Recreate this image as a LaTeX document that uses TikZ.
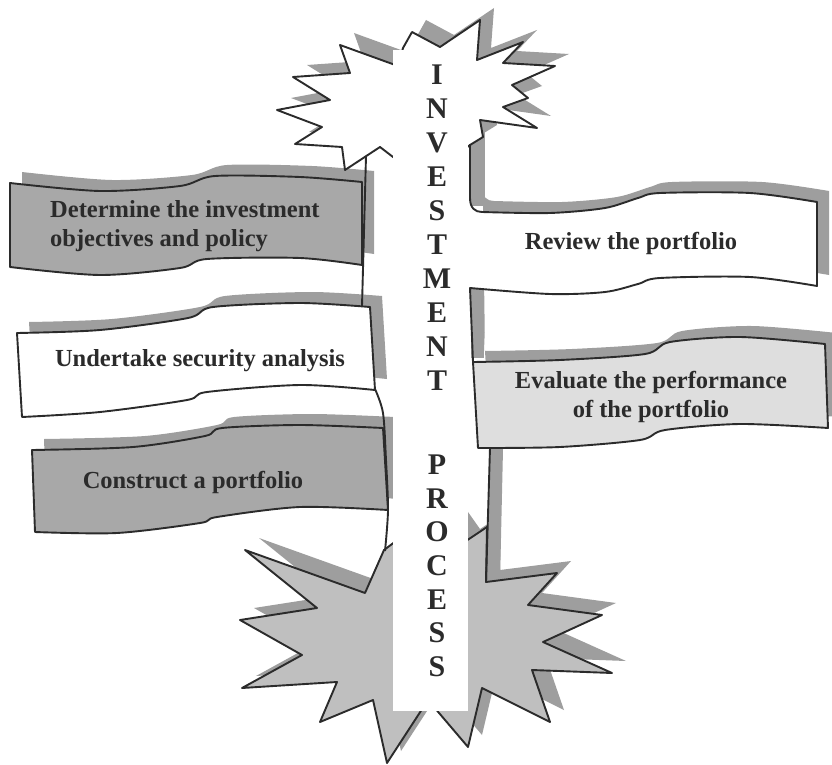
\documentclass[tikz,border=0pt]{standalone}
\usepackage{fontspec}
\setmainfont{Liberation Serif}
\definecolor{bandgray}{gray}{0.66}
\definecolor{lightband}{gray}{0.87}
\definecolor{stargray}{gray}{0.75}
\definecolor{shadowgray}{gray}{0.62}
\definecolor{inkgray}{gray}{0.17}
\tikzset{
	outline/.style={draw=inkgray, line width=1.9pt, line join=round},
	ribshadow/.style={fill=shadowgray, draw=none, shift={(12,-11)}},
	starshadow/.style={fill=shadowgray, draw=none, shift={(14,-12)}},
	bantext/.style={
		font={\fontsize{24.5}{29.5}\selectfont\bfseries},
		text=inkgray,
		inner sep=0pt
	},
	colletter/.style={
		font={\fontsize{30}{30}\selectfont\bfseries},
		text=inkgray,
		inner sep=0pt
	}
}
% ribbon and burst outlines, in pixels, y pointing down
\newcommand{\ribDetermine}{plot[smooth] coordinates {(10,183) (100,191) (180,186) (215,176) (300,177) (362,182)}
	-- plot[smooth] coordinates {(362,265) (300,258) (207,259) (180,268) (100,275) (10,267)} -- cycle}
\newcommand{\ribUndertake}{plot[smooth] coordinates {(17,333) (100,330) (188,318) (213,307) (300,303) (370,307)}
	-- plot[smooth] coordinates {(375,390) (300,385) (207,392) (187,400) (100,412) (22,417)} -- cycle}
\newcommand{\ribConstruct}{plot[smooth] coordinates {(32,450) (133,447) (205,436) (222,428) (300,425) (383,428)}
	-- plot[smooth] coordinates {(388,510) (300,507) (217,517) (200,523) (117,533) (35,532)} -- cycle}
\newcommand{\ribReview}{(470,144) -- (470,198) .. controls (470,208) and (475,212) .. (482,212)
	-- plot[smooth] coordinates {(482,212) (550,213) (605,208) (638,198) (660,193) (750,193) (817,202)}
	-- plot[smooth] coordinates {(817,286) (750,277) (660,278) (638,284) (605,292) (550,294) (470,288)}
	-- (473,362)}
\newcommand{\ribEvaluate}{plot[smooth] coordinates {(473,362) (560,360) (645,354) (670,342) (740,337) (825,344)}
	-- plot[smooth] coordinates {(828,428) (740,424) (665,430) (640,440) (560,447) (478,448)} -- cycle}
\newcommand{\starTop}{(340,45) -- (398,66) -- (403,48) -- (412,32) -- (440,47) -- (480,20) -- (477,60)
	-- (523,42) -- (503,63) -- (555,66) -- (512,85) -- (528,98) -- (503,107) -- (537,128) -- (480,120)
	-- (483,137) -- (470,145) -- (430,175) -- (393,157) -- (380,147) -- (345,170) -- (342,147) -- (295,144)
	-- (322,127) -- (277,110) -- (330,100) -- (293,77) -- (350,73) -- cycle}
\newcommand{\starBottom}{(384,550) -- (396,541) -- (430,490) -- (466,541) -- (487,527) -- (486,582)
	-- (557,573) -- (528,605) -- (602,615) -- (543,642) -- (612,673) -- (532,670) -- (550,722) -- (482,688)
	-- (468,747) -- (428,700) -- (387,763) -- (373,700) -- (320,722) -- (337,682) -- (242,688) -- (302,655)
	-- (240,620) -- (317,608) -- (245,550) -- (365,593) -- cycle}
\begin{document}
\begin{tikzpicture}[x=1pt, y=-1pt]
	\useasboundingbox (0,0) rectangle (832,765);
	
	% ribbons on the left
	\fill[ribshadow] \ribDetermine;
	\filldraw[outline, fill=bandgray] \ribDetermine;
	\fill[ribshadow] \ribUndertake;
	\filldraw[outline, fill=white] \ribUndertake;
	\fill[ribshadow] \ribConstruct;
	\filldraw[outline, fill=bandgray] \ribConstruct;
	
	% ribbons on the right
	\fill[ribshadow] \ribReview -- cycle;
	\fill[white] \ribReview -- cycle;
	\fill[ribshadow] \ribEvaluate;
	\fill[lightband] \ribEvaluate;
	\fill[shadowgray] (471,128) rectangle (485,206);
	\fill[shadowgray] (471,289) rectangle (484,358);
	\fill[shadowgray] (490,449) -- (503,449) -- (500,582) -- (487,582) -- cycle;
	
	% the two bursts
	\fill[starshadow] \starTop;
	\filldraw[outline, fill=white] \starTop;
	\fill[starshadow] \starBottom;
	\filldraw[outline, fill=stargray] \starBottom;
	
	% ribbon edges and poles
	\draw[outline] \ribReview;
	\draw[outline] \ribEvaluate;
	\draw[outline] (490,448) -- (486,582);
	\draw[outline] (366,156) -- (362,306);
	\draw[outline] plot[smooth] coordinates {(375,389) (383,413) (386,460) (388,510) (385,551)};
	
	% the column
	\fill[white] (393,50) rectangle (468,711);
	\foreach \ch [count=\i from 0] in {I,N,V,E,S,T,M,E,N,T}
		\node[colletter] (inv\i) at (437,{75+34*\i}) {\ch};
	\foreach \ch [count=\i from 0] in {P,R,O,C,E,S,S}
		\node[colletter] (proc\i) at (437,{465+33.6*\i}) {\ch};
	
	% texts on the ribbons
	\node[bantext, align=left, anchor=west] (determine) at (50,226) {Determine the investment\\objectives and policy};
	\node[bantext] (undertake) at (200,361) {Undertake security analysis};
	\node[bantext] (construct) at (193,482) {Construct a portfolio};
	\node[bantext] (review) at (631,243) {Review the portfolio};
	\node[bantext, align=center] (evaluate) at (651,397) {Evaluate the performance\\of the portfolio};
\end{tikzpicture}
\end{document}
